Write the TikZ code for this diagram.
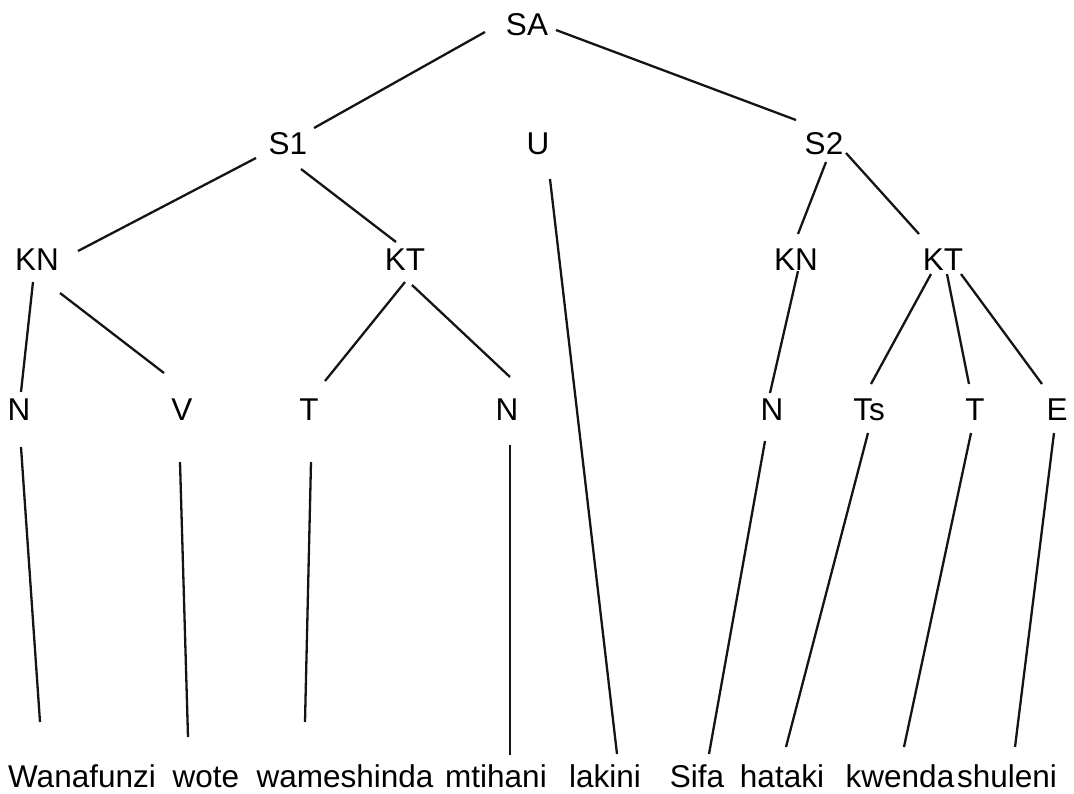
\documentclass[tikz,border=0pt]{standalone}
\usepackage{fontspec}
\setmainfont{Liberation Sans}
\begin{document}
\begin{tikzpicture}[x=1pt,y=-1pt,
  lbl/.style={anchor=base, inner sep=0pt, font=\fontsize{31.5}{36}\selectfont},
  edge/.style={line width=2.3pt, draw=black!92}]
\useasboundingbox (0,0) rectangle (1074,793);
% top levels
\node[lbl] (SA) at (527,35) {SA};
\node[lbl] (S1) at (288,154) {S1};
\node[lbl] (U)  at (538,154) {U};
\node[lbl] (S2) at (824,154) {S2};
\node[lbl] (KN1) at (37,270) {KN};
\node[lbl] (KT1) at (405,270) {KT};
\node[lbl] (KN2) at (796,270) {KN};
\node[lbl] (KT2) at (943,270) {KT};
% pre-terminals
\node[lbl] (N1) at (19,420) {N};
\node[lbl] (V)  at (182,420) {V};
\node[lbl] (T1) at (309,420) {T};
\node[lbl] (N2) at (507,420) {N};
\node[lbl] (N3) at (772,420) {N};
\node[lbl] (Ts) at (869,420) {Ts};
\node[lbl] (T2) at (975,420) {T};
\node[lbl] (E)  at (1057,420) {E};
% words
\node[lbl] (w1) at (82,787) {Wanafunzi};
\node[lbl] (w2) at (206,787) {wote};
\node[lbl] (w3) at (345,787) {wameshinda};
\node[lbl] (w4) at (496,787) {mtihani};
\node[lbl] (w5) at (605,787) {lakini};
\node[lbl] (w6) at (697,787) {Sifa};
\node[lbl] (w7) at (782,787) {hataki};
\node[lbl] (w8) at (900,787) {kwenda};
\node[lbl] (w9) at (1007,787) {shuleni};
% connectors
\foreach \a/\b/\xa/\ya/\xb/\yb in {
  SA/S1/485/32/314/128,
  SA/S2/556/30/796/120,
  S1/KN1/256/158/78/251,
  S1/KT1/301/169/396/242,
  S2/KN2/826/162/798/234,
  S2/KT2/846/153/919/234,
  U/w5/550/179/617/754,
  KN1/N1/33/282/21/392,
  KN1/V/60/293/164/373,
  KT1/T1/405/282/325/381,
  KT1/N2/412/285/510/377,
  KN2/N3/798/271/770/393,
  KT2/Ts/931/274/871/384,
  KT2/T2/947/274/969/384,
  KT2/E/961/274/1042/384,
  N1/w1/21/447/40/722,
  V/w2/180/462/188/737,
  T1/w3/311/462/305/722,
  N2/w4/510/445/510/755,
  N3/w6/765/441/709/754,
  Ts/w7/868/433/786/747,
  T2/w8/971/433/904/747,
  E/w9/1054/433/1015/747}{
  \coordinate (\a-\b-top) at (\xa,\ya);
  \coordinate (\a-\b-bot) at (\xb,\yb);
  \draw[edge] (\a-\b-top) -- (\a-\b-bot);
}
\end{tikzpicture}
\end{document}
